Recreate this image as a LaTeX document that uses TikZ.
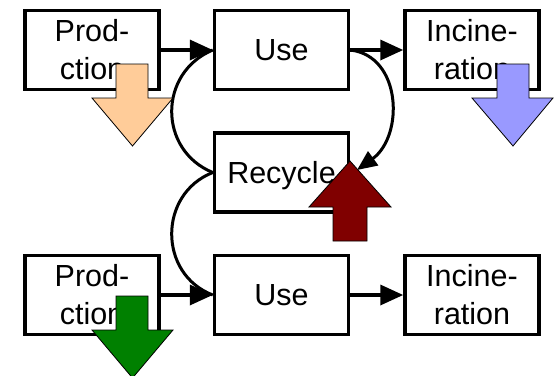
\documentclass[tikz,border=0pt]{standalone}
\usepackage{fontspec}
\setmainfont{Liberation Sans}
\usetikzlibrary{arrows.meta}
\definecolor{peach}{HTML}{FFCC99}
\definecolor{lilac}{HTML}{9999FF}
\definecolor{maroon}{HTML}{800000}
\definecolor{leaf}{HTML}{008000}
\begin{document}
\begin{tikzpicture}[x=1pt,y=-1pt,
  box/.style={draw, line width=3.5pt, minimum width=134pt, minimum height=79pt,
    inner sep=0pt, align=center, font=\fontsize{30.5}{38}\selectfont},
  flow/.style={line width=3.5pt, -{Triangle[length=23pt,width=20pt]}},
  loopline/.style={line width=3pt},
  blockarrow/.style={draw=black, line width=0.8pt, line join=miter}]
\fill[white] (0,0) rectangle (554,375);
\useasboundingbox (0,0) rectangle (554,375);

% upper chain
\node[box] (p1) at (92,50)    {Prod-\\ction};
\node[box] (u1) at (281.5,50) {Use};
\node[box] (i1) at (472,50)   {Incine-\\ration};

% recycling box
\node[box, text depth=0pt] (r) at (281.5,172.5) {Recycle};

% lower chain
\node[box] (p2) at (92,295)    {Prod-\\ction};
\node[box] (u2) at (281.5,295) {Use};
\node[box] (i2) at (472,295)   {Incine-\\ration};

% loops through recycling
\draw[loopline] (r.west) .. controls (158,150) and (158,73) .. (u1.west);
\draw[loopline] (r.west) .. controls (158,194) and (158,274) .. (u2.west);
\coordinate (rin) at (357,170);
\draw[loopline, -{Triangle[length=20pt,width=17pt]}]
  (u1.east) .. controls (402,56) and (404,136) .. (rin);

% straight flows
\draw[flow] (p1.east) -- (u1.west);
\draw[flow] (u1.east) -- (i1.west);
\draw[flow] (p2.east) -- (u2.west);
\draw[flow] (u2.east) -- (i2.west);

% block arrows
\draw[blockarrow, fill=peach] (116,64) -- (148,64) -- (148,98) -- (173,98)
  -- (132.5,146) -- (92,98) -- (116,98) -- cycle;
\draw[blockarrow, fill=lilac] (497,64) -- (529,64) -- (529,98) -- (553,98)
  -- (513,146) -- (472,98) -- (497,98) -- cycle;
\draw[blockarrow, fill=leaf] (116,296) -- (148,296) -- (148,330) -- (173,330)
  -- (132.5,378) -- (92,330) -- (116,330) -- cycle;
\draw[blockarrow, fill=maroon] (333,241) -- (367,241) -- (367,207) -- (391,207)
  -- (350,161) -- (309,207) -- (333,207) -- cycle;
\end{tikzpicture}
\end{document}
